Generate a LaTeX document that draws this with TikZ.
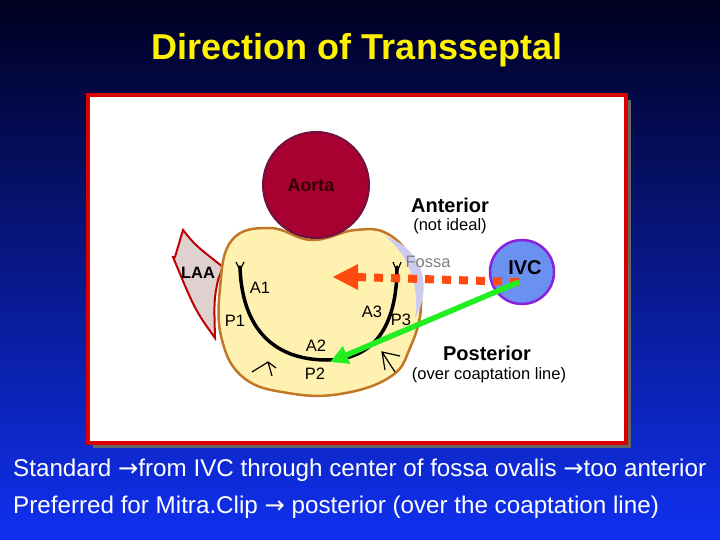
\documentclass[tikz,border=0pt]{standalone}
\usepackage{fontspec}
\setmainfont{Liberation Sans}
\newfontfamily\dv{DejaVu Sans}
\usetikzlibrary{arrows.meta}
\definecolor{bgtop}{HTML}{000020}
\definecolor{bgbot}{HTML}{1030F0}
\definecolor{aortaf}{HTML}{A80030}
\definecolor{aortab}{HTML}{701040}
\definecolor{atrf}{HTML}{FFF2B0}
\definecolor{atrb}{HTML}{C07828}
\definecolor{ivcf}{HTML}{6A90F0}
\definecolor{ivcb}{HTML}{8A20E0}
\definecolor{redarr}{HTML}{FF4A10}
\definecolor{grn}{HTML}{22EE22}
\definecolor{fossac}{HTML}{CCCCF0}
\newcommand{\ar}{{\dv →}}
\tikzset{lbl/.style={font=\fontsize{16.5}{19}\selectfont, inner sep=0pt},
 blbl/.style={font=\fontsize{20}{23}\selectfont\bfseries, inner sep=0pt},
 wtext/.style={font=\fontsize{24.2}{28}\selectfont, text=white, anchor=west, inner sep=0pt}}
\begin{document}
\begin{tikzpicture}[x=1pt,y=-1pt]
\shade[top color=bgtop, bottom color=bgbot] (0,0) rectangle (720,540);
\useasboundingbox (0,0) rectangle (720,540);
\node[font=\fontsize{36}{40}\selectfont\bfseries, text=yellow] (title) at (357,50) {Direction of Transseptal};
\fill[black!60] (93,100) rectangle (631,448);
\draw[line width=4, draw=red!85!black, fill=white] (88,95) rectangle (626,443);
% LAA
\draw[line width=2, draw=red!75!black, fill=red!20!gray!30] (175,257) -- (183,230) .. controls (195,245) .. (223,267) -- (218,280) .. controls (214,300) .. (215,338) .. controls (195,310) .. (173,257) -- cycle;
% atrium
\draw[line width=2.5, draw=atrb, fill=atrf] plot[smooth cycle, tension=0.7] coordinates {(232,240) (270,228) (312,240) (355,230) (388,234) (412,262) (421,305) (410,348) (390,377) (340,394) (288,393) (244,378) (222,340) (220,288)};
% fossa
\fill[fossac] (385,236) .. controls (425,250) and (432,290) .. (415,318) .. controls (420,290) and (410,255) .. (385,236) -- cycle;
% aorta
\node[circle, minimum size=106, line width=2, draw=aortab, fill=aortaf] (aorta) at (316,185) {};
\node[blbl, font=\fontsize{18}{20}\selectfont\bfseries, text=black!80!red] (aortat) at (311,185) {Aorta};
% mitral arc
\draw[line width=3.5, line cap=round] (240,267) .. controls (242,330) and (275,360) .. (327,360) .. controls (390,360) and (397,300) .. (397,267);
\draw[line width=1.2] (236,262) -- (240,270) -- (244,262);
\draw[line width=1.2] (393,262) -- (397,272) -- (401,262);
\draw[line width=1.2] (252,372) -- (268,362) -- (276,368) (268,362) -- (272,376);
\draw[line width=1.2] (400,356) -- (382,352) -- (385,370) (382,352) -- (395,372);
\node[lbl] (a1) at (260,288) {A1};
\node[lbl] (p1) at (235,321) {P1};
\node[lbl] (a2) at (316,346) {A2};
\node[lbl] (p2) at (315,374) {P2};
\node[lbl] (a3) at (372,312) {A3};
\node[lbl] (p3) at (401,320) {P3};
\node[blbl, font=\fontsize{16.5}{19}\selectfont\bfseries] (laa) at (198,273) {LAA};
\node[lbl, text=gray] (fossa) at (428,262) {Fossa};
\node[blbl] (ant) at (450,205) {Anterior};
\node[lbl] (noti) at (450,226) {(not ideal)};
\node[blbl] (post) at (487,353) {Posterior};
\node[lbl] (over) at (489,375) {(over coaptation line)};
% IVC
\node[circle, minimum size=64, line width=2.5, draw=ivcb, fill=ivcf] (ivc) at (522,272) {};
\node[blbl] (ivct) at (525,268) {IVC};
\coordinate (src) at (519,282);
\coordinate (redend) at (355,277);
\coordinate (redtip) at (333,277);
\coordinate (greenend) at (330,362);
\draw[redarr, line width=8, dash pattern=on 9pt off 8pt] (src) -- (redend);
\fill[redarr] (redtip) -- (358,264) -- (358,290) -- cycle;
\draw[grn, line width=5.5, -{Triangle[length=18pt,width=18pt]}] (src) -- (greenend);
\node[wtext] (l1) at (13,470) {Standard \ar from IVC through center of fossa ovalis \ar too anterior};
\node[wtext] (l2) at (13,507) {Preferred for Mitra.Clip \ar{} posterior (over the coaptation line)};
\end{tikzpicture}
\end{document}
